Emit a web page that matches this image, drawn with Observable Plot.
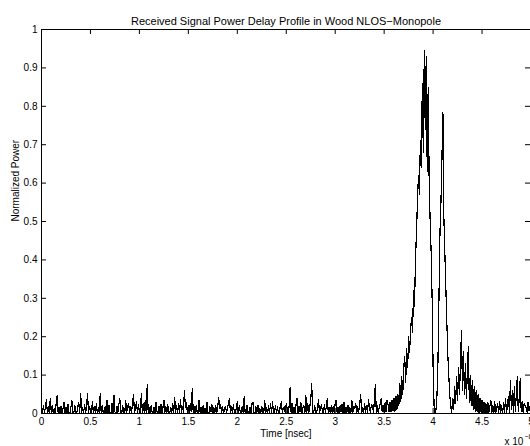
<!DOCTYPE html>
<html>
<head>
<meta charset="utf-8">
<script src="https://cdn.jsdelivr.net/npm/d3@7"></script>
<script src="https://cdn.jsdelivr.net/npm/@observablehq/plot@0.6"></script>
<style>
  html, body { margin: 0; padding: 0; background: #fff; overflow: hidden; }
  #chart svg { display: block; }
</style>
</head>
<body>
<div id="chart"></div>
<script>
// ---- Data ----
const chartTitle = "Received Signal Power Delay Profile in Wood NLOS\u2212Monopole";
const xLabel = "Time [nsec]";
const yLabel = "Normalized Power";
const xExponent = "\u22128";
const startTime = 0;        // x 10^-8 s
const sampleStep = 0.01;    // x 10^-8 s between samples

const xTicks = [0, 0.5, 1, 1.5, 2, 2.5, 3, 3.5, 4, 4.5, 5];
const yTicks = [0, 0.1, 0.2, 0.3, 0.4, 0.5, 0.6, 0.7, 0.8, 0.9, 1];

// noise floor, t = 0.00 .. 3.54
const noiseFloor = [
  0.012, 0.002, 0.02, 0.003, 0.015, 0.035, 0.002, 0.018, 0.001, 0.04,
  0.003, 0.022, 0.002, 0.014, 0.001, 0.026, 0.048, 0.002, 0.016, 0.001,
  0.019, 0.002, 0.012, 0.03, 0.001, 0.017, 0.002, 0.024, 0.003, 0.001,
  0.015, 0.035, 0.002, 0.001, 0.021, 0.004, 0.001, 0.018, 0.028, 0.002,
  0.052, 0.003, 0.016, 0.001, 0.023, 0.002, 0.014, 0.052, 0.001, 0.019,
  0.004, 0.001, 0.03, 0.002, 0.017, 0.003, 0.025, 0.001, 0.015, 0.002,
  0.052, 0.001, 0.02, 0.004, 0.001, 0.018, 0.002, 0.035, 0.001, 0.022,
  0.003, 0.001, 0.027, 0.002, 0.048, 0.004, 0.001, 0.019, 0.002, 0.024,
  0.04, 0.003, 0.001, 0.021, 0.002, 0.001, 0.035, 0.002, 0.017, 0.026,
  0.001, 0.019, 0.003, 0.028, 0.048, 0.001, 0.016, 0.031, 0.002, 0.022,
  0.004, 0.001, 0.052, 0.002, 0.025, 0.003, 0.034, 0.002, 0.075,
  0.002, 0.016, 0.001, 0.021, 0.003, 0.001, 0.017, 0.002, 0.03, 0.004,
  0.001, 0.019, 0.003, 0.024, 0.001, 0.015, 0.035, 0.002, 0.018, 0.001,
  0.023, 0.003, 0.001, 0.016, 0.002, 0.027, 0.001, 0.042, 0.004, 0.02,
  0.002, 0.025, 0.004, 0.035, 0.001, 0.018, 0.003, 0.06, 0.016, 0.029,
  0.003, 0.021, 0.001, 0.026, 0.004, 0.066, 0.002, 0.019, 0.001, 0.022,
  0.004, 0.002, 0.035, 0.003, 0.017, 0.001, 0.02, 0.002, 0.014, 0.001,
  0.03, 0.003, 0.001, 0.018, 0.004, 0.024, 0.001, 0.015, 0.002, 0.02,
  0.003, 0.016, 0.041, 0.013, 0.022, 0.001, 0.017, 0.002, 0.012,
  0.019, 0.001, 0.014, 0.027, 0.04, 0.002, 0.018, 0.001, 0.023, 0.003,
  0.002, 0.015, 0.03, 0.001, 0.02, 0.004, 0.001, 0.017, 0.002, 0.043,
  0.004, 0.001, 0.021, 0.003, 0.001, 0.016, 0.002, 0.025, 0.03, 0.003,
  0.001, 0.018, 0.002, 0.022, 0.001, 0.013, 0.001, 0.019, 0.003, 0.001,
  0.035, 0.002, 0.016, 0.001, 0.02, 0.004, 0.026, 0.002, 0.03, 0.004,
  0.002, 0.021, 0.001, 0.017, 0.003, 0.001, 0.023, 0.03, 0.002, 0.015,
  0.018, 0.001, 0.025, 0.014, 0.001, 0.02, 0.068, 0.003, 0.027,
  0.002, 0.016, 0.002, 0.022, 0.04, 0.001, 0.019, 0.004, 0.028, 0.002,
  0.015, 0.021, 0.001, 0.048, 0.003, 0.025, 0.002, 0.018, 0.034, 0.077,
  0.003, 0.001, 0.02, 0.004, 0.002, 0.017, 0.035, 0.001, 0.016, 0.022,
  0.004, 0.002, 0.024, 0.002, 0.019, 0.04, 0.001, 0.015, 0.003, 0.021,
  0.001, 0.018, 0.003, 0.026, 0.035, 0.002, 0.016, 0.001, 0.02, 0.004,
  0.024, 0.002, 0.03, 0.001, 0.017, 0.003, 0.021, 0.001, 0.015, 0.002,
  0.035, 0.003, 0.019, 0.014, 0.025, 0.002, 0.018, 0.004, 0.022,
  0.05, 0.001, 0.016, 0.002, 0.027, 0.004, 0.02, 0.002, 0.035, 0.015,
  0.003, 0.024, 0.019, 0.004, 0.03, 0.076, 0.003, 0.021, 0.002,
  0.017, 0.026, 0.04, 0.004, 0.022, 0.003, 0.028, 0.005, 0.035, 0.024
];

// main arrivals, t = 3.55 .. 4.24
const mainArrivals = [
  0.005, 0.03, 0.004, 0.035, 0.008, 0.04, 0.006, 0.045, 0.01, 0.05,
  0.02, 0.078, 0.03, 0.095, 0.05, 0.12, 0.147, 0.08, 0.17, 0.12,
  0.2, 0.16, 0.216, 0.25, 0.21, 0.32, 0.28, 0.4, 0.47, 0.55,
  0.62, 0.57, 0.71, 0.64, 0.86, 0.68, 0.945, 0.74, 0.93, 0.63,
  0.85, 0.6, 0.5, 0.42, 0.3, 0.12, 0.02, 0.002, 0.01, 0.05,
  0.14, 0.3, 0.47, 0.55, 0.66, 0.785, 0.51, 0.42, 0.33, 0.24,
  0.156, 0.1, 0.05, 0.016, 0.003, 0.04, 0.01, 0.07, 0.025, 0.095
];

// late echoes and tail, t = 4.25 .. 4.99
const lateTail = [
  0.035, 0.12, 0.05, 0.14, 0.216, 0.06, 0.16, 0.05, 0.13, 0.04,
  0.11, 0.175, 0.03, 0.1, 0.02, 0.085, 0.01, 0.07, 0.005, 0.06,
  0.004, 0.05, 0.002, 0.04, 0.003, 0.035, 0.001, 0.03, 0.002, 0.025,
  0.001, 0.028, 0.003, 0.018, 0.035, 0.002, 0.022, 0.001, 0.03, 0.002,
  0.016, 0.025, 0.001, 0.032, 0.003, 0.02, 0.001, 0.028, 0.004, 0.04,
  0.002, 0.022, 0.045, 0.003, 0.085, 0.01, 0.06, 0.004, 0.07, 0.005,
  0.05, 0.095, 0.006, 0.04, 0.09, 0.004, 0.03, 0.002, 0.025, 0.02,
  0.015, 0.003, 0.03, 0.008, 0.02
];

// ---- Build table ----
const power = [...noiseFloor, ...mainArrivals, ...lateTail];
const samples = power.map((p, i) => ({t: startTime + i * sampleStep, p}));

// ---- Layout ----
const W = 530, H = 446;
const mL = 41, mR = 0, mT = 29, mB = 33;
const frameW = W - mL - mR, frameH = H - mT - mB;
const tick = 5;
const font = "'Liberation Sans', Arial, Helvetica, sans-serif";
const xEnd = xTicks[xTicks.length - 1], xStart = xTicks[0];
const yEnd = yTicks[yTicks.length - 1], yStart = yTicks[0];

const chart = Plot.plot({
  width: W,
  height: H,
  marginLeft: mL,
  marginRight: mR,
  marginTop: mT,
  marginBottom: mB,
  style: {fontFamily: font, fontSize: "10px", color: "#000", background: "#fff"},
  x: {domain: [xStart, xEnd], range: [mL, W + 0.5]},
  y: {domain: [yStart, yEnd]},
  marks: [
    Plot.line(samples, {x: "t", y: "p", stroke: "#000", strokeWidth: 1.2, shapeRendering: "crispEdges"}),
    // inward tick marks on all four sides
    Plot.tickX(xTicks, {x: d => d, insetTop: frameH - tick, stroke: "#000"}),
    Plot.tickX(xTicks, {x: d => d, insetBottom: frameH - tick, stroke: "#000"}),
    Plot.tickY(yTicks, {y: d => d, insetRight: frameW - tick, stroke: "#000"}),
    Plot.tickY(yTicks, {y: d => d, insetLeft: frameW - tick, stroke: "#000"}),
    // axes box
    Plot.ruleY([yStart, yEnd], {stroke: "#000", strokeWidth: 1}),
    Plot.ruleX([xStart, xEnd], {stroke: "#000", strokeWidth: 1}),
    Plot.axisX(xTicks, {tickSize: 0, tickPadding: 4, tickFormat: d => String(d), fontSize: 10, label: null}),
    Plot.axisY(yTicks, {tickSize: 0, tickPadding: 4, tickFormat: d => String(d), fontSize: 10, label: null}),
    Plot.text([chartTitle], {frameAnchor: "top", dy: -12, fontSize: 11, fill: "#000"}),
    Plot.text([xLabel], {frameAnchor: "bottom", dy: 23, fontSize: 10, fill: "#000"}),
    Plot.text([yLabel], {frameAnchor: "left", dx: -26, rotate: -90, fontSize: 10, fill: "#000"}),
    Plot.text(["x 10"], {frameAnchor: "bottom-right", dx: -26, dy: 31, textAnchor: "start", fontSize: 10, fill: "#000"}),
    Plot.text([xExponent], {frameAnchor: "bottom-right", dx: -6, dy: 25, textAnchor: "start", fontSize: 7, fill: "#000"})
  ]
});

document.getElementById("chart").appendChild(chart);
</script>
</body>
</html>
